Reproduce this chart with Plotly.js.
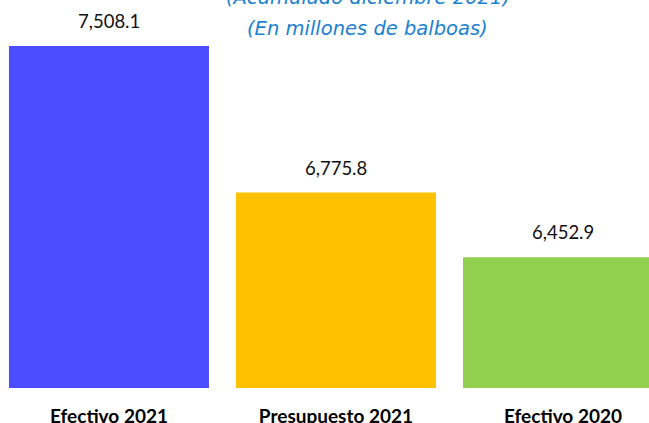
<!DOCTYPE html>
<html>
<head>
<meta charset="utf-8">
<script src="https://cdn.plot.ly/plotly-3.0.1.min.js"></script>
<style>html,body{margin:0;padding:0;background:#fff;}#chart{width:649px;height:423px;}</style>
</head>
<body>
<div id="chart"></div>
<script>
const categories = ["Efectivo 2021", "Presupuesto 2021", "Efectivo 2020"];
const values = [7508.1, 6775.8, 6452.9];
const valueLabels = ["7,508.1", "6,775.8", "6,452.9"];
const barColors = ["#4B4BFF", "#FFC000", "#92D050"];
const titleLines = ["(Acumulado diciembre 2021)", "(En millones de balboas)"];

const trace = {
  type: "bar",
  x: categories,
  y: values,
  width: 0.881,
  marker: {color: barColors},
  hoverinfo: "none"
};

const annotations = categories.map((c, i) => ({
  x: c, y: values[i], xref: "x", yref: "y",
  text: valueLabels[i], showarrow: false,
  yanchor: "bottom", yshift: 12,
  font: {family: "Lato, 'Open Sans', sans-serif", size: 18.5, color: "#111"}
}));

const titleFont = {family: "'DejaVu Sans', sans-serif", size: 19.5, color: "#1a80d0", style: "italic"};
annotations.push({
  xref: "paper", yref: "paper", x: 0.567, y: 1, yanchor: "middle",
  yshift: 49, text: titleLines[0], showarrow: false, font: titleFont
});
annotations.push({
  xref: "paper", yref: "paper", x: 0.567, y: 1, yanchor: "middle",
  yshift: 18, text: titleLines[1], showarrow: false, font: titleFont
});

const layout = {
  width: 649, height: 423,
  margin: {l: 0, r: 0, t: 46, b: 35},
  paper_bgcolor: "#fff", plot_bgcolor: "#fff",
  showlegend: false,
  xaxis: {
    range: [-0.480, 2.379],
    showgrid: false, zeroline: false, showline: false, ticks: "",
    tickfont: {family: "Lato, sans-serif", size: 19, color: "#000", weight: "bold"},
    ticklabelstandoff: 15
  },
  yaxis: {
    range: [5800, 7508.1], visible: false, showgrid: false, zeroline: false
  },
  annotations: annotations
};

Plotly.newPlot("chart", [trace], layout, {staticPlot: true, displayModeBar: false});
</script>
</body>
</html>
